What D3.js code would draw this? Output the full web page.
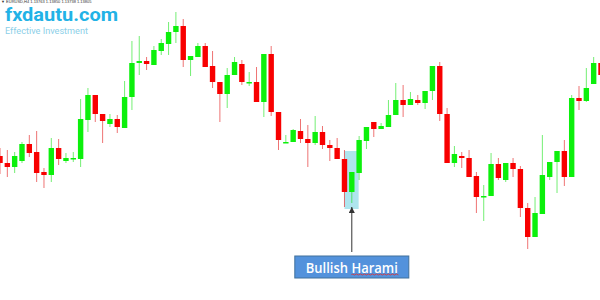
<!DOCTYPE html>
<html lang="en">
<head>
    <meta charset="UTF-8">
    <title>Bullish Harami</title>
    <script src="https://cdn.jsdelivr.net/npm/d3@7/dist/d3.min.js"></script>
    <style>
        body { margin: 0; background: #fff; }
        svg { display: block; }
        .wick { stroke-width: 1px; stroke-opacity: 0.55; }
    </style>
</head>
<body>
    <script>
        // EURUSD H4 candles
        let opens  = [1.1344,1.1337,1.1333,1.1339,1.1356,1.1348,1.1328,1.1325,1.1352,1.1339,1.1341,1.1341,1.1380,1.1405,1.1386,1.1376,1.1381,1.1372,1.1403,1.1437,
                      1.1439,1.1435,1.1449,1.1456,1.1468,1.1474,1.1440,1.1443,1.1454,1.1434,1.1418,1.1406,1.1425,1.1436,1.1417,1.1418,1.1398,1.1446,1.1388,1.1357,
                      1.1358,1.1369,1.1361,1.1357,1.1368,1.1355,1.1352,1.1341,1.1308,1.1327,1.1359,1.1378,1.1371,1.1373,1.1385,1.1400,1.1395,1.1400,1.1397,1.1409,
                      1.1434,1.1386,1.1337,1.1344,1.1342,1.1324,1.1303,1.1304,1.1336,1.1320,1.1337,1.1331,1.1292,1.1263,1.1286,1.1323,1.1338,1.1349,1.1323,1.1402,
                      1.1399,1.1416,1.1437];
        let highs  = [1.1352,1.1350,1.1348,1.1358,1.1365,1.1369,1.1332,1.1362,1.1361,1.1347,1.1348,1.1401,1.1412,1.1405,1.1386,1.1386,1.1385,1.1419,1.1459,1.1464,
                      1.1443,1.1454,1.1461,1.1478,1.1488,1.1481,1.1444,1.1457,1.1457,1.1449,1.1418,1.1432,1.1443,1.1440,1.1428,1.1433,1.1446,1.1454,1.1388,1.1365,
                      1.1371,1.1381,1.1375,1.1384,1.1374,1.1360,1.1362,1.1350,1.1328,1.1364,1.1373,1.1378,1.1377,1.1400,1.1417,1.1415,1.1408,1.1405,1.1409,1.1434,
                      1.1438,1.1392,1.1354,1.1348,1.1350,1.1328,1.1315,1.1347,1.1342,1.1337,1.1342,1.1334,1.1297,1.1303,1.1365,1.1338,1.1349,1.1360,1.1405,1.1414,
                      1.1432,1.1443,1.1442];
        let lows   = [1.1326,1.1323,1.1327,1.1337,1.1343,1.1318,1.1312,1.1318,1.1335,1.1337,1.1338,1.1333,1.1368,1.1378,1.1357,1.1373,1.1367,1.1372,1.1390,1.1425,
                      1.1430,1.1435,1.1445,1.1445,1.1457,1.1433,1.1424,1.1443,1.1433,1.1412,1.1378,1.1392,1.1425,1.1415,1.1414,1.1398,1.1383,1.1384,1.1350,1.1357,
                      1.1358,1.1357,1.1333,1.1355,1.1351,1.1339,1.1341,1.1293,1.1297,1.1320,1.1351,1.1363,1.1371,1.1373,1.1385,1.1383,1.1395,1.1395,1.1391,1.1400,
                      1.1379,1.1337,1.1333,1.1332,1.1323,1.1287,1.1279,1.1304,1.1320,1.1318,1.1323,1.1283,1.1251,1.1263,1.1286,1.1320,1.1307,1.1314,1.1323,1.1390,
                      1.1398,1.1416,1.1422];
        let closes = [1.1337,1.1333,1.1344,1.1356,1.1347,1.1327,1.1325,1.1352,1.1341,1.1342,1.1342,1.1381,1.1405,1.1386,1.1379,1.1381,1.1373,1.1403,1.1437,1.1439,
                      1.1436,1.1450,1.1457,1.1468,1.1474,1.1440,1.1444,1.1454,1.1433,1.1418,1.1406,1.1425,1.1438,1.1418,1.1418,1.1398,1.1446,1.1388,1.1360,1.1358,
                      1.1370,1.1361,1.1357,1.1368,1.1355,1.1352,1.1341,1.1308,1.1328,1.1360,1.1373,1.1371,1.1374,1.1385,1.1400,1.1395,1.1401,1.1397,1.1409,1.1434,
                      1.1386,1.1337,1.1346,1.1342,1.1323,1.1303,1.1304,1.1336,1.1322,1.1337,1.1331,1.1292,1.1263,1.1287,1.1325,1.1338,1.1349,1.1323,1.1402,1.1399,
                      1.1412,1.1437,1.1425];

        let symbolText = '\u25BC EURUSD,H4  1.13763 1.13850 1.13738 1.13805';
        let logoText = 'fxdautu.com';
        let sloganText = 'Effective Investment';
        let patternLabel = ['Bullish ', 'Harami'];
        let patternBars = [47, 48];   // the two candles of the harami

        let width = 600;
        let height = 300;
        let bodyW = 5.4;

        let svg = d3.select('body')
                    .append('svg')
                    .attr('width', width)
                    .attr('height', height);

        let x = d3.scaleLinear()
                    .domain([0, opens.length - 1])
                    .range([0, 601]);

        let y = d3.scaleLinear()
                    .domain([1.12, 1.15])
                    .range([height, 0]);

        let candles = d3.range(opens.length).map(function(i){
            return { i: i, o: opens[i], h: highs[i], l: lows[i], c: closes[i], up: closes[i] >= opens[i] };
        });

        //高亮区域
        let pb = candles.filter(function(d){ return patternBars.indexOf(d.i) >= 0 });
        let hiTop = y(d3.max(pb, function(d){ return d.h }));
        let hiBot = y(d3.min(pb, function(d){ return d.l }));
        svg.append('rect')
            .attr('x', x(patternBars[0]))
            .attr('y', hiTop + 1)
            .attr('width', x(patternBars[1] + 1) - 0.5 - x(patternBars[0]))
            .attr('height', hiBot - hiTop + 1)
            .attr('fill', '#aee5ee');

        //影线
        svg.append('g').selectAll('line')
            .data(candles)
            .enter()
            .append('line')
            .attr('class', 'wick')
            .attr('x1', function(d){ return x(d.i) })
            .attr('x2', function(d){ return x(d.i) })
            .attr('y1', function(d){ return y(d.h) })
            .attr('y2', function(d){ return y(d.l) })
            .attr('stroke', function(d){ return d.up ? '#00e000' : '#e00000' });

        //实体
        svg.append('g').selectAll('rect')
            .data(candles)
            .enter()
            .append('rect')
            .attr('x', function(d){ return x(d.i) - bodyW / 2 })
            .attr('y', function(d){ return y(Math.max(d.o, d.c)) })
            .attr('width', bodyW)
            .attr('height', function(d){ return Math.max(1.5, Math.abs(y(d.o) - y(d.c))) })
            .attr('fill', function(d){ return d.up ? '#0cf00c' : '#f80000' });

        //左上角文字
        svg.append('text')
            .attr('x', 1).attr('y', 3.2)
            .attr('font-family', 'Liberation Sans, sans-serif')
            .attr('font-size', 4)
            .attr('fill', '#333')
            .text(symbolText);

        svg.append('text')
            .attr('x', 5).attr('y', 21)
            .attr('font-family', 'Roboto, sans-serif')
            .attr('font-weight', 'bold')
            .attr('font-size', 18.5)
            .attr('textLength', 113)
            .attr('lengthAdjust', 'spacingAndGlyphs')
            .attr('fill', '#22b2e6')
            .text(logoText);

        svg.append('text')
            .attr('x', 5).attr('y', 33.5)
            .attr('font-family', 'Roboto, sans-serif')
            .attr('font-size', 9.5)
            .attr('textLength', 83)
            .attr('lengthAdjust', 'spacingAndGlyphs')
            .attr('fill', '#8ccfe8')
            .text(sloganText);

        //箭头
        let ax = x(patternBars[1]);
        svg.append('defs').append('marker')
            .attr('id', 'head')
            .attr('viewBox', '0 0 10 10')
            .attr('refX', 10).attr('refY', 5)
            .attr('markerWidth', 6).attr('markerHeight', 6)
            .attr('orient', 'auto')
            .append('path')
            .attr('d', 'M0,0L10,5L0,10z')
            .attr('fill', '#333');

        svg.append('line')
            .attr('x1', ax).attr('x2', ax)
            .attr('y1', 252).attr('y2', hiBot)
            .attr('stroke', '#333')
            .attr('stroke-width', 1)
            .attr('marker-end', 'url(#head)');

        //标签
        let box = svg.append('g').attr('transform', 'translate(' + ax + ',267)');
        box.append('rect')
            .attr('x', -57).attr('y', -11)
            .attr('width', 114).attr('height', 22)
            .attr('fill', '#5392dc')
            .attr('stroke', '#41719c')
            .attr('stroke-width', 1);

        let label = box.append('text')
            .attr('x', 0).attr('y', 6)
            .attr('text-anchor', 'middle')
            .attr('font-family', 'Open Sans, sans-serif')
            .attr('font-size', 14)
            .attr('font-weight', 600)
            .attr('textLength', 92)
            .attr('lengthAdjust', 'spacingAndGlyphs')
            .attr('fill', '#fff');
        label.append('tspan').text(patternLabel[0]);
        let harami = label.append('tspan').text(patternLabel[1]);

        //拼写检查波浪线
        let bb = harami.node().getBBox();
        let wave = 'M' + bb.x + ',8';
        for (let px = bb.x; px < bb.x + bb.width; px += 2) {
            wave += 'L' + (px + 1) + ',' + (((px - bb.x) / 2) % 2 === 0 ? 7 : 8) ;
        }
        box.append('path')
            .attr('d', wave)
            .attr('fill', 'none')
            .attr('stroke', '#e03030')
            .attr('stroke-width', 0.8);
    </script>
</body>
</html>
